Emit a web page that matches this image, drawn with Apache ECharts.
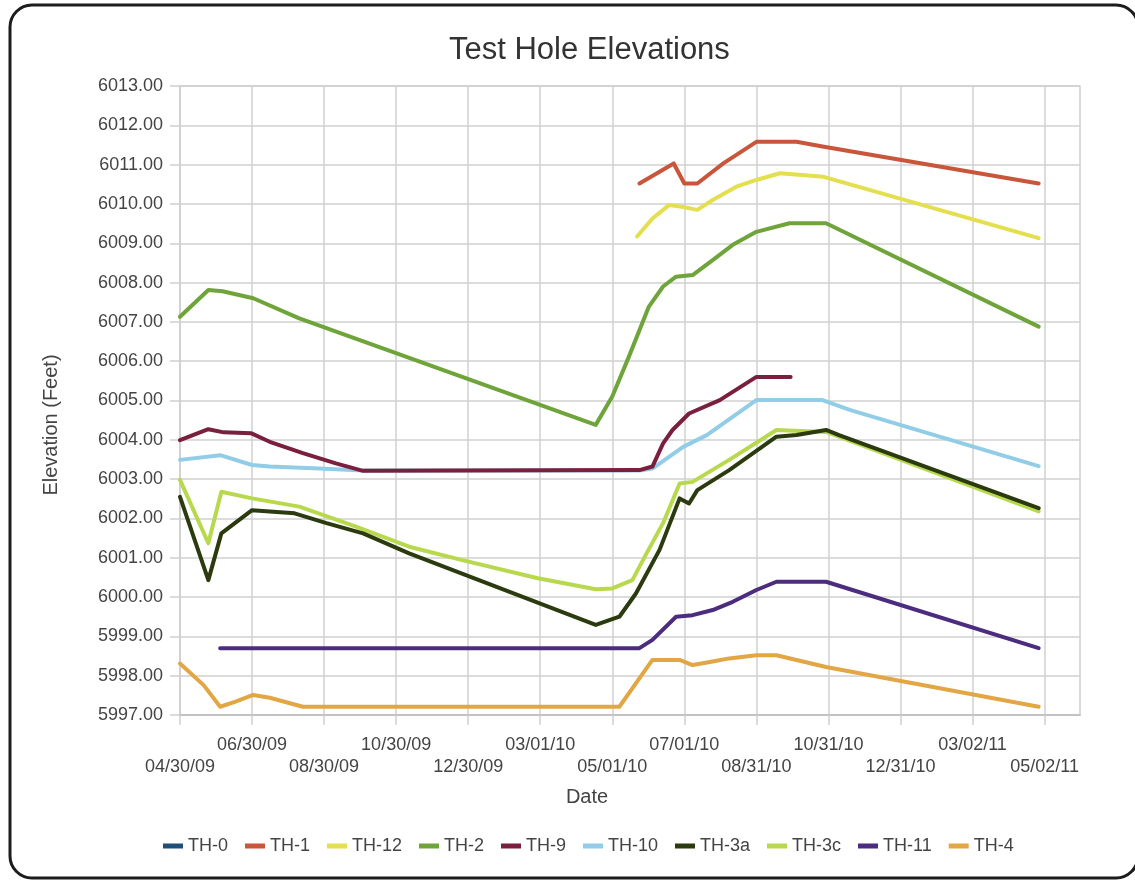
<!DOCTYPE html>
<html><head><meta charset="utf-8">
<script src="https://cdn.jsdelivr.net/npm/echarts@6/dist/echarts.min.js"></script>
<style>html,body{margin:0;padding:0;background:#fff}#c{width:1135px;height:882px}</style>
</head><body><div id="c"></div><script>
// ---- data ----
const tickLabels = ['04/30/09','06/30/09','08/30/09','10/30/09','12/30/09','03/01/10','05/01/10','07/01/10','08/31/10','10/31/10','12/31/10','03/02/11','05/02/11'];
const yTicks = [5997, 6013];
const seriesNames = ['TH-0','TH-1','TH-12','TH-2','TH-9','TH-10','TH-3a','TH-3c','TH-11','TH-4'];
const seriesColors = ['#1f4e79','#c9553a','#e3df4f','#6ea43a','#7a1f3d','#92cde8','#2c3a0f','#b8d84e','#4b2c7f','#e3a645'];

const th0Dates = [];
const th0Values = [];
const th1Dates = ['2010-05-24','2010-06-22','2010-07-01','2010-07-12','2010-08-03','2010-08-31','2010-10-04','2010-10-26','2011-04-27'];
const th1Values = [6010.52,6011.03,6010.52,6010.52,6011.03,6011.58,6011.58,6011.46,6010.52];
const th12Dates = ['2010-05-22','2010-06-04','2010-06-18','2010-06-29','2010-07-12','2010-07-25','2010-08-14','2010-08-31','2010-09-20','2010-10-27','2011-04-27'];
const th12Values = [6009.17,6009.63,6009.97,6009.93,6009.85,6010.10,6010.44,6010.61,6010.78,6010.69,6009.13];
const th2Dates = ['2009-04-30','2009-05-24','2009-06-05','2009-07-01','2009-08-09','2010-04-17','2010-05-01','2010-05-15','2010-06-01','2010-06-13','2010-06-24','2010-07-08','2010-07-25','2010-08-11','2010-08-31','2010-09-28','2010-10-29','2011-04-27'];
const th2Values = [6007.13,6007.81,6007.78,6007.60,6007.09,6004.38,6005.10,6006.11,6007.39,6007.90,6008.15,6008.19,6008.57,6008.96,6009.29,6009.51,6009.51,6006.88];
const th9Dates = ['2009-04-30','2009-05-24','2009-06-06','2009-06-29','2009-07-15','2009-08-12','2009-09-09','2009-10-02','2010-05-24','2010-06-04','2010-06-13','2010-06-21','2010-07-05','2010-07-31','2010-08-31','2010-09-29'];
const th9Values = [6003.99,6004.27,6004.19,6004.17,6003.95,6003.66,6003.40,6003.21,6003.23,6003.32,6003.91,6004.25,6004.67,6005.01,6005.60,6005.60];
const th10Dates = ['2009-04-30','2009-06-03','2009-06-30','2009-07-15','2009-08-26','2009-10-02','2010-05-24','2010-06-04','2010-06-30','2010-07-20','2010-08-31','2010-10-26','2010-11-18','2011-04-27'];
const th10Values = [6003.49,6003.61,6003.36,6003.32,6003.27,6003.22,6003.22,6003.27,6003.82,6004.12,6005.01,6005.01,6004.76,6003.33];
const th3aDates = ['2009-04-30','2009-05-24','2009-06-04','2009-06-30','2009-08-05','2009-09-01','2009-10-02','2009-11-10','2010-04-17','2010-05-07','2010-05-21','2010-06-10','2010-06-27','2010-07-05','2010-07-12','2010-08-08','2010-09-17','2010-10-04','2010-10-29','2010-11-09','2011-04-27'];
const th3aValues = [6002.55,6000.43,6001.62,6002.21,6002.13,6001.88,6001.62,6001.11,5999.29,5999.50,6000.09,6001.20,6002.51,6002.38,6002.72,6003.23,6004.08,6004.12,6004.25,6004.12,6002.26];
const th3cDates = ['2009-04-30','2009-05-24','2009-06-04','2009-06-30','2009-08-09','2009-09-26','2009-11-10','2009-12-25','2010-02-27','2010-04-17','2010-05-01','2010-05-18','2010-05-30','2010-06-13','2010-06-27','2010-07-08','2010-08-08','2010-09-17','2010-10-29','2011-04-27'];
const th3cValues = [6002.98,6001.37,6002.68,6002.51,6002.30,6001.79,6001.28,6000.94,6000.48,6000.20,6000.22,6000.43,6001.11,6001.88,6002.89,6002.93,6003.49,6004.25,6004.20,6002.18];
const th11Dates = ['2009-06-03','2010-05-24','2010-06-04','2010-06-24','2010-07-08','2010-07-25','2010-08-11','2010-08-31','2010-09-17','2010-10-29','2011-04-27'];
const th11Values = [5998.70,5998.70,5998.91,5999.50,5999.54,5999.67,5999.88,6000.18,6000.39,6000.39,5998.70];
const th4Dates = ['2009-04-30','2009-05-20','2009-06-03','2009-06-16','2009-07-01','2009-07-15','2009-08-12','2010-05-07','2010-06-04','2010-06-27','2010-07-08','2010-07-25','2010-08-08','2010-08-31','2010-09-17','2010-10-29','2011-04-27'];
const th4Values = [5998.31,5997.76,5997.21,5997.34,5997.51,5997.44,5997.21,5997.21,5998.40,5998.40,5998.27,5998.36,5998.44,5998.52,5998.52,5998.22,5997.21];

// ---- build ----
const BASE = Date.UTC(2009, 3, 30);
function dayOfIso(s){ const p = s.split('-').map(Number); return Math.round((Date.UTC(p[0], p[1]-1, p[2]) - BASE) / 86400000); }
function dayOfLabel(s){ const p = s.split('/').map(Number); return Math.round((Date.UTC(2000 + p[2], p[0]-1, p[1]) - BASE) / 86400000); }
const tickDays = tickLabels.map(dayOfLabel);

const allDates = [th0Dates, th1Dates, th12Dates, th2Dates, th9Dates, th10Dates, th3aDates, th3cDates, th11Dates, th4Dates];
const allValues = [th0Values, th1Values, th12Values, th2Values, th9Values, th10Values, th3aValues, th3cValues, th11Values, th4Values];

const series = seriesNames.map((name, i) => ({
  name: name,
  type: 'line',
  data: allDates[i].map((d, k) => [dayOfIso(d), allValues[i][k]]),
  showSymbol: false,
  symbol: 'none',
  z: 30 - i,
  lineStyle: { color: seriesColors[i], width: 4, join: 'round', cap: 'round' },
  itemStyle: { color: seriesColors[i] }
}));

const chart = echarts.init(document.getElementById('c'), null, { renderer: 'canvas' });
const FONT = '"Liberation Sans", Arial, sans-serif';
const GRID_C = '#d0d0d0';
chart.setOption({
  animation: false,
  backgroundColor: '#fff',
  textStyle: { fontFamily: FONT },
  title: {
    text: 'Test Hole Elevations',
    left: 444, top: 30,
    textStyle: { fontSize: 31, fontWeight: 'normal', color: '#333', fontFamily: FONT }
  },
  graphic: [{
    type: 'rect', silent: true, z: 100,
    shape: { x: 10, y: 5, width: 1128, height: 873, r: 22 },
    style: { fill: null, stroke: '#1c1c1c', lineWidth: 3 }
  }],
  legend: {
    data: seriesNames,
    left: 158, top: 832,
    icon: 'rect', itemWidth: 20, itemHeight: 5, itemGap: 17,
    textStyle: { fontSize: 18, color: '#444', fontFamily: FONT }
  },
  grid: { left: 180, right: 55, top: 86, bottom: 167, show: true, borderColor: GRID_C, borderWidth: 1.5, containLabel: false, outerBoundsMode: 'none' },
  xAxis: {
    type: 'value', min: 0, max: 762,
    name: 'Date', nameLocation: 'middle', nameGap: 72,
    nameTextStyle: { fontSize: 20, color: '#444', padding: [0, 86, 0, 0] },
    axisLine: { show: true, lineStyle: { color: '#bdbdbd', width: 1.5 } },
    axisTick: { show: true, length: 10, customValues: tickDays, lineStyle: { color: GRID_C, width: 1.5 } },
    splitLine: { show: true, lineStyle: { color: GRID_C, width: 1.5 } },
    axisLabel: {
      customValues: tickDays, margin: 19, fontSize: 18, color: '#444', lineHeight: 22, hideOverlap: false,
      formatter: function (v) { const i = tickDays.indexOf(v); if (i < 0) return ''; return i % 2 === 0 ? '\n' + tickLabels[i] : tickLabels[i]; }
    }
  },
  yAxis: {
    type: 'value', min: yTicks[0], max: yTicks[1], interval: 1,
    name: 'Elevation (Feet)', nameLocation: 'middle', nameGap: 119, nameRotate: 90,
    nameTextStyle: { fontSize: 20, color: '#444', padding: [0, 49, 0, 0] },
    axisLine: { show: true, lineStyle: { color: GRID_C, width: 1.5 } },
    axisTick: { show: true, length: 10, lineStyle: { color: GRID_C, width: 1.5 } },
    splitLine: { show: true, lineStyle: { color: GRID_C, width: 1.5 } },
    axisLabel: { margin: 17, fontSize: 18, color: '#444', formatter: v => v.toFixed(2) }
  },
  series: series
});
</script></body></html>
